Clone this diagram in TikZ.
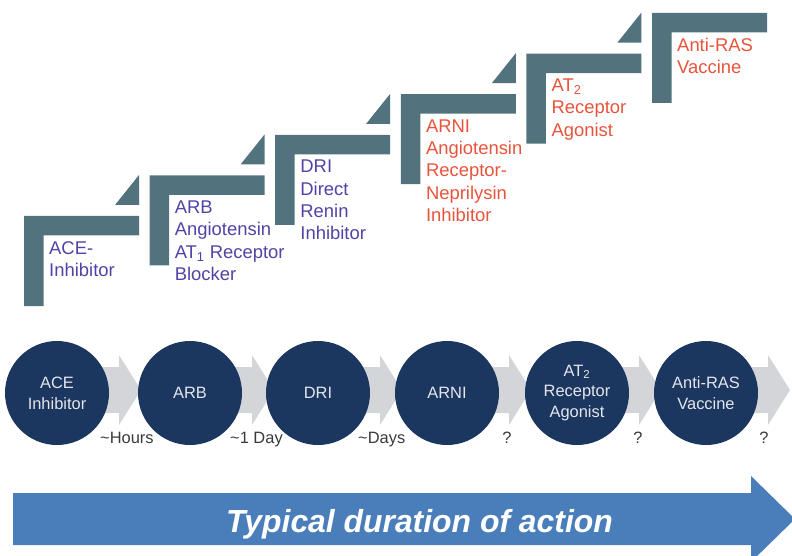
\documentclass[tikz,border=0pt]{standalone}
\usepackage{fontspec}
\setmainfont{Liberation Sans}
\usetikzlibrary{calc,backgrounds}
\definecolor{stepc}{HTML}{52737E}
\definecolor{purp}{HTML}{4F44A6}
\definecolor{redo}{HTML}{E8533B}
\definecolor{navy}{HTML}{1B365F}
\definecolor{arrgray}{HTML}{D3D5D8}
\definecolor{bluearr}{HTML}{4A7EBB}
\definecolor{circtext}{HTML}{E4E6EA}
\definecolor{labgray}{HTML}{3A3A3A}
\begin{document}
\begin{tikzpicture}[x=1bp,y=-1bp,
  steptext/.style={anchor=north west, align=left, inner sep=0pt, font=\fontsize{18.5}{22.5}\selectfont},
  stepfill/.style={fill=stepc},
  circ/.style={circle, fill=navy, minimum size=104bp, inner sep=0pt, text=circtext, align=center, font=\fontsize{16.5}{21}\selectfont},
  grayarrow/.style={fill=arrgray},
  durlabel/.style={inner sep=0pt, text=labgray, font=\fontsize{16.5}{20}\selectfont},
  bigarrow/.style={fill=bluearr},
  bigtext/.style={anchor=base, inner sep=0pt, text=white, font=\fontsize{32}{36}\selectfont\bfseries\itshape}
]
\useasboundingbox (0,0) rectangle (792,556);
\clip (0,0) rectangle (792,556);

% steps
\foreach \i in {0,...,5}{
  \pgfmathsetmacro{\L}{24+125.6*\i}
  \pgfmathsetmacro{\T}{216-40.6*\i}
  \fill[stepfill] (\L,\T) -- ++(115,0) -- ++(0,19.5) -- ++(-95.5,0) -- ++(0,70.5) -- ++(-19.5,0) -- cycle;
}
\foreach \i in {0,...,4}{
  \pgfmathsetmacro{\L}{24+125.6*\i}
  \pgfmathsetmacro{\T}{216-40.6*\i}
  \fill[stepfill] (\L+91,\T-11) -- (\L+115,\T-11) -- (\L+115,\T-41) -- cycle;
}
\node[steptext, text=purp] (t0) at (24+25, 216+25) {ACE-\\Inhibitor};
\node[steptext, text=purp] (t1) at (149.6+25, 175.4+25) {ARB\\Angiotensin\\AT\textsubscript{1} Receptor\\Blocker};
\node[steptext, text=purp] (t2) at (275.2+25, 134.8+25) {DRI\\Direct\\Renin\\Inhibitor};
\node[steptext, text=redo] (t3) at (400.8+25, 94.2+25) {ARNI\\Angiotensin\\Receptor-\\Neprilysin\\Inhibitor};
\node[steptext, text=redo] (t4) at (526.4+25, 53.6+25) {AT\textsubscript{2}\\Receptor\\Agonist};
\node[steptext, text=redo] (t5) at (652+25, 13+25) {Anti-RAS\\Vaccine};

% circles
\node[circ] (c1) at (57,393) {ACE\\Inhibitor};
\node[circ] (c2) at (190,393) {ARB};
\node[circ] (c3) at (318,393) {DRI};
\node[circ] (c4) at (447,393) {ARNI};
\node[circ] (c5) at (577,393) {AT\textsubscript{2}\\Receptor\\Agonist};
\node[circ] (c6) at (706,393) {Anti-RAS\\Vaccine};

\begin{pgfonlayer}{background}
\foreach \c in {c1,c2,c3,c4,c5,c6}{
  \fill[grayarrow] ($(\c.center)+(0,-26)$) -- ++(62,0) -- ++(0,-12) -- ++(22,35) -- ++(-22,35) -- ++(0,-12) -- ++(-62,0) -- cycle;
}
\end{pgfonlayer}

% duration labels
\node[durlabel, anchor=base west] (l1) at (100,443) {\textasciitilde Hours};
\node[durlabel, anchor=base west] (l2) at (230,443) {\textasciitilde 1 Day};
\node[durlabel, anchor=base west] (l3) at (358,443) {\textasciitilde Days};
\node[durlabel, anchor=base] (l4) at (507,443) {?};
\node[durlabel, anchor=base] (l5) at (638,443) {?};
\node[durlabel, anchor=base] (l6) at (764,443) {?};

% big arrow
\fill[bigarrow] (13,493) -- (751,493) -- (751,476) -- (795,519) -- (751,562) -- (751,545) -- (13,545) -- cycle;
\node[bigtext] (dur) at (419.5,532) {Typical duration of action};
\end{tikzpicture}
\end{document}
